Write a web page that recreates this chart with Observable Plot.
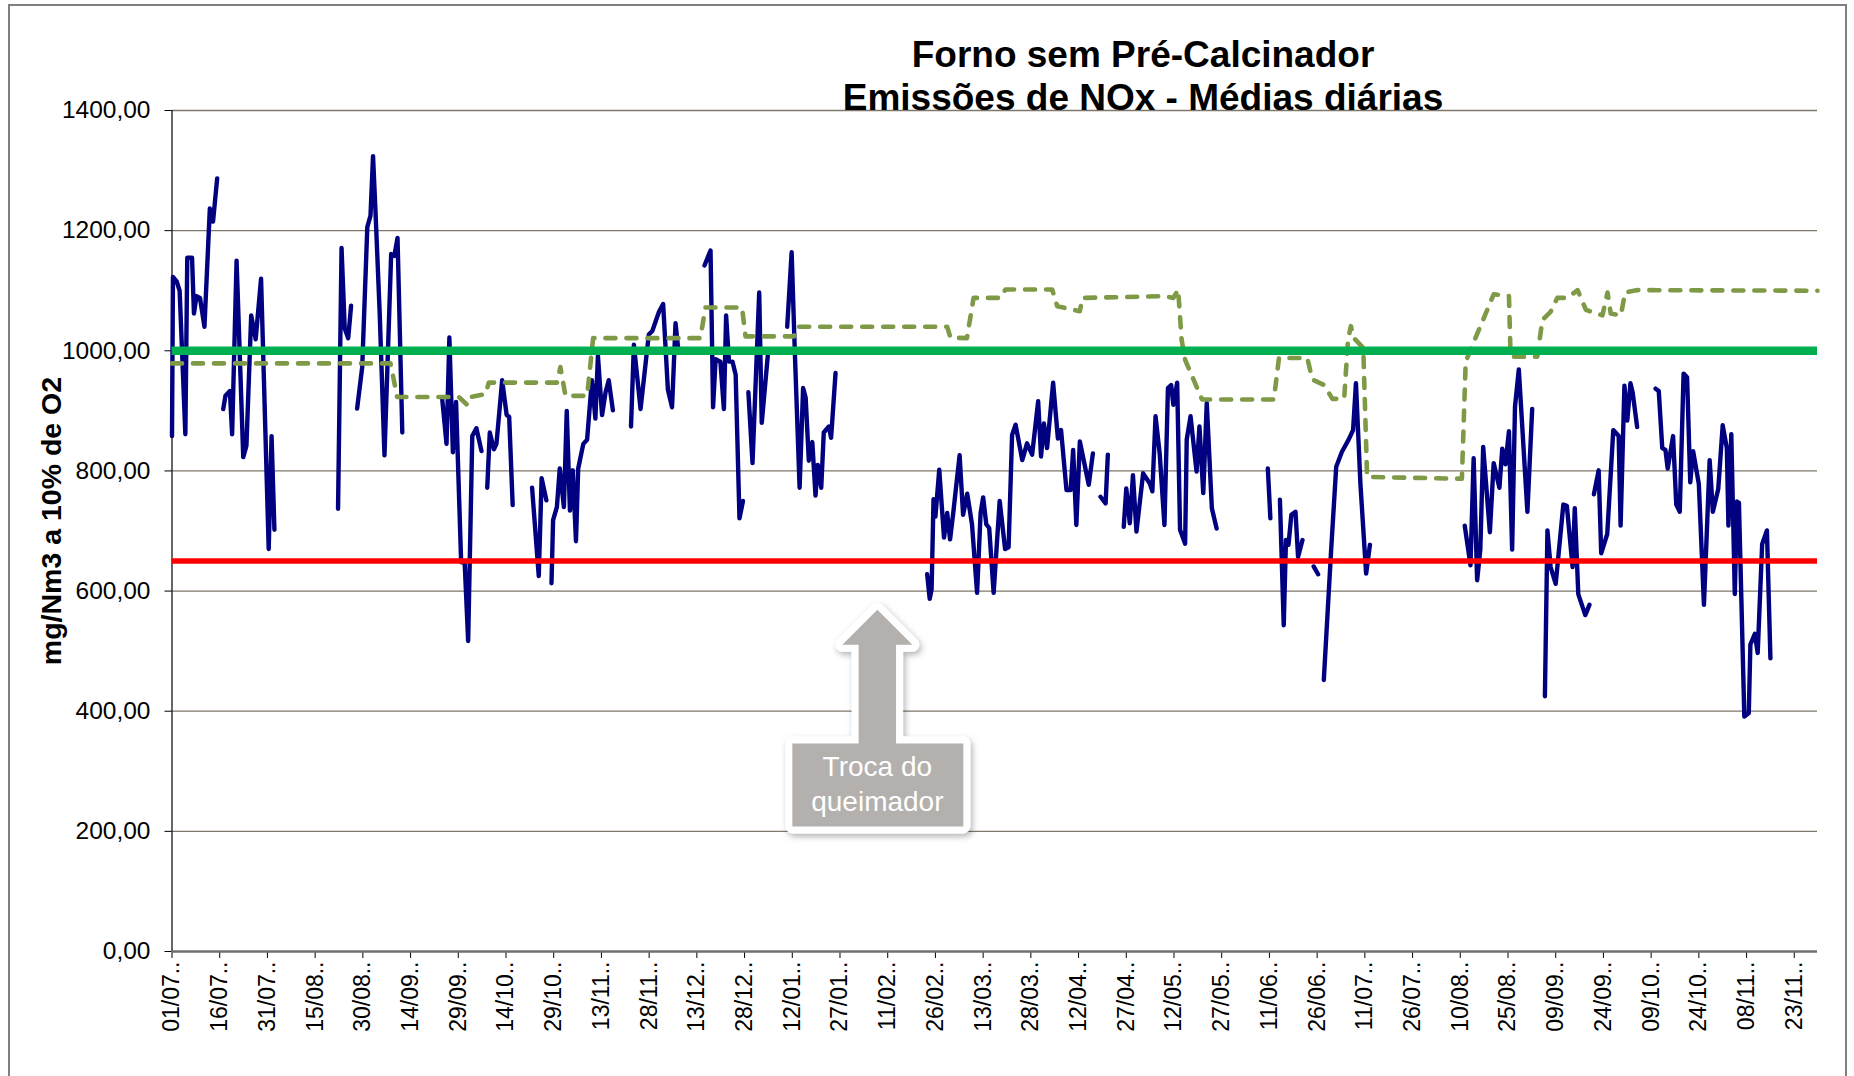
<!DOCTYPE html>
<html><head><meta charset="utf-8">
<script src="https://cdn.jsdelivr.net/npm/d3@7"></script>
<script src="https://cdn.jsdelivr.net/npm/@observablehq/plot@0.6"></script>
<style>
html,body{margin:0;padding:0;background:#fff;}
#chart{width:1854px;height:1076px;overflow:hidden;}
</style>
</head><body><div id="chart"></div>
<script>
const titleLines = ["Forno sem Pré-Calcinador", "Emissões de NOx - Médias diárias"];
const yLabel = "mg/Nm3 a 10% de O2";
const tickLabels = ["01/07..","16/07..","31/07..","15/08..","30/08..","14/09..","29/09..","14/10..","29/10..","13/11..","28/11..","13/12..","28/12..","12/01..","27/01..","11/02..","26/02..","13/03..","28/03..","12/04..","27/04..","12/05..","27/05..","11/06..","26/06..","11/07..","26/07..","10/08..","25/08..","09/09..","24/09..","09/10..","24/10..","08/11..","23/11.."];
const tickStepDays = 15;
const yTicks = [0,200,400,600,800,1000,1200,1400];
const limitGreen = 1000;
const limitRed = 650;
const annotation = {day: 221.9, value: 568, lines: ["Troca do", "queimador"]};

// daily NOx averages [day since 01/07, mg/Nm3]; null = no data
const nox = [
[0,858],[0.3,1123],[1.5,1115],[2.4,1100],[4.2,861],[4.8,1155],[6.3,1155],[6.9,1062],[7.7,1091],[8.8,1088],[10.2,1040],[11.9,1237],[12.9,1215],[14.2,1287],
[15,null],
[16.1,903],[16.8,925],[18.2,933],[18.9,861],[20.3,1150],[22.4,823],[23.4,842],[24.9,1059],[26.3,1019],[28.0,1120],[30.4,670],[31.3,858],[32.2,702],
[40,null],
[52.2,737],[53.3,1171],[54.3,1037],[55.4,1021],[56.3,1075],
[57,null],
[58.2,904],[59.8,973],[61.4,1206],[62.4,1225],[63.2,1324],[63.9,1241],[65.3,1062],[66.8,826],[68.9,1161],[69.9,1158],[70.9,1188],[72.4,864],
[80,null],
[84.9,922],[86.3,845],[87.2,1022],[88.3,831],[89.3,915],[90.9,648],[92.0,648],[93.1,517],[94.4,858],[95.7,871],[97.3,833],
[98,null],
[99.1,772],[99.9,864],[101.2,836],[102.0,845],[103.8,951],[105.2,893],[106.0,890],[107.1,743],
[110,null],
[113.2,772],[115.3,625],[116.2,788],[117.7,751],
[118.5,null],
[119.3,613],[119.8,718],[121.0,740],[121.9,804],[123.2,740],[124.1,900],[125.1,734],[126.0,801],[127.0,683],[127.7,804],[129.3,845],[130.5,852],[132.0,951],[133.1,887],[133.9,992],[135.2,893],[136.3,931],[137.3,951],[138.6,901],
[141,null],
[144.3,874],[145.2,1010],[147.3,903],[149.9,1027],[151.0,1033],[153.1,1065],[154.4,1078],[155.9,935],[157.2,906],[158.3,1046],[159.1,1005],
[163,null],
[167.4,1142],[169.3,1167],[170.1,906],[170.9,986],[172.4,982],[173.5,903],[174.2,1059],[175.1,982],[176.2,982],[177.2,960],[178.4,721],[179.5,750],
[180.3,null],
[181.2,931],[182.5,813],[184.6,1097],[185.4,880],[187.3,992],
[190,null],
[193.4,1040],[194.8,1164],[195.8,998],[197.3,772],[198.4,938],[199.2,922],[200.2,817],[201.3,848],[202.3,759],[203.0,810],[204.1,772],[204.9,864],[206.5,874],[207.2,855],[208.6,963],
[220,null],
[237.4,628],[238.2,587],[238.8,603],[239.4,753],[240.0,724],[241.2,802],[242.7,689],[243.7,730],[244.6,686],[245.6,730],[247.6,826],[248.7,727],[250.0,762],[251.5,711],[253.1,597],[254.2,730],[255.0,756],[256.0,711],[256.9,705],[258.3,597],[260.2,750],[261.9,670],[263.0,673],[264.1,860],[265.2,877],[267.3,818],[268.8,846],[270.4,827],[272.3,916],[273.2,824],[274.1,879],[275.1,838],[277.0,947],[278.5,854],[279.5,868],[281.2,768],[282.5,768],[283.3,835],[284.3,710],[285.4,849],[288.2,777],[289.5,829],
[290.7,null],
[291.9,757],[293.5,746],[294.2,827],
[296,null],
[299.2,707],[300.0,771],[301.1,713],[302.1,793],[303.2,699],[305.3,796],[307.4,779],[308.2,766],[309.2,891],[310.5,829],[312.0,710],[313.1,938],[314.1,943],[314.8,910],[316.0,947],[316.9,702],[318.5,679],[319.0,852],[320.2,891],[322.1,799],[323.0,874],[324.2,763],[325.3,913],[326.9,738],[328.4,704],
[336,null],
[344.5,804],[345.3,721],
[346.8,null],
[348.3,752],[349.5,543],[350.2,685],[351.0,677],[351.9,727],[353.2,732],[354.0,657],[355.4,685],
[357,null],
[358.9,641],[360.3,628],
[361.2,null],
[362.1,452],[364.4,668],[366.0,807],[367.8,832],[369.9,852],[371.3,868],[372.2,946],[373.6,779],[375.4,629],[376.6,677],
[390,null],
[406.4,709],[408.2,643],[409.2,821],[410.3,618],[411.3,669],[412.2,840],[414.3,698],[415.5,813],[417.3,772],[418.2,837],[419.2,811],[420.3,866],[421.3,669],[422.2,907],[423.4,969],[426.1,732],[427.6,903],
[429.5,null],
[431.6,425],[432.4,701],[433.4,640],[435.0,612],[437.4,744],[438.5,742],[440.3,640],[441.0,738],[442.1,595],[444.3,560],[445.6,577],
[446.3,null],
[447.0,761],[448.5,801],[449.3,663],[451.2,695],[453.1,868],[454.8,858],[455.4,709],[456.6,942],[457.5,884],[458.5,946],[459.2,930],[460.6,873],
[463,null],
[466.4,937],[467.4,933],[468.5,838],[469.5,835],[470.2,804],[471.9,858],[472.9,744],[474.0,732],[475.2,962],[476.3,956],[477.3,781],[478.2,833],[480.0,778],[481.6,577],[483.4,818],[484.4,732],[486.1,770],[487.5,876],[488.8,838],[489.3,709],[490.2,861],[491.3,595],[492.0,749],[492.6,747],[494.3,391],[495.7,397],[496.2,511],[497.6,529],[498.5,497],[499.9,678],[501.4,701],[502.5,488]
];

// dashed reference series [day, mg/Nm3]
const reference = [
[0,979],[68.7,979],[70.8,923],[90.2,923],[92.8,910],[93.8,923],[98.6,928],[99.6,947],[121.0,947],[122.1,973],[123.7,925],[130.5,925],[132.4,1021],[166.1,1021],[167.7,1072],[179.2,1072],[180.3,1024],[195.5,1024],[196.6,1040],[243.7,1040],[244.7,1022],[249.9,1021],[252.0,1088],[260.5,1088],[262.0,1102],[276.7,1102],[278.3,1074],[285.4,1066],[286.2,1088],[311.9,1091],[314.8,1088],[316.3,1102],[317.4,1018],[318.5,985],[323.8,919],[346.4,919],[348.0,988],[356.9,988],[358.5,952],[362.2,943],[364.8,920],[368.5,920],[369.7,1018],[370.6,1041],[371.6,1021],[374.5,1005],[375.7,790],[405.5,787],[406.7,982],[415.5,1094],[420.3,1091],[420.8,993],[421.8,990],[429.2,990],[430.8,1051],[433.4,1065],[435.5,1088],[438.7,1088],[441.9,1101],[444.5,1068],[449.7,1059],[451.3,1097],[452.3,1062],[455.5,1059],[456.8,1097],[460.8,1101],[517.3,1100]
];
const xMaxDay = 517.3;

const noxData = nox.map(([d, v]) => ({day: d, value: v}));
const refData = reference.map(([d, v]) => ({day: d, value: v}));
const tickDays = tickLabels.map((_, i) => i * tickStepDays);
const labelByDay = new Map(tickDays.map((d, i) => [d, tickLabels[i]]));
const fmt = v => v.toFixed(2).replace(".", ",");
const FONT = "'Liberation Sans', Arial, sans-serif";

const plot = Plot.plot({
  width: 1854, height: 1076,
  marginLeft: 171.5, marginRight: 37, marginTop: 110, marginBottom: 125,
  x: {domain: [0, xMaxDay]},
  y: {domain: [0, 1400]},
  style: {fontFamily: FONT, background: "#fff", color: "#000"},
  marks: [
    Plot.gridY(yTicks.filter(v => v > 0), {stroke: "#7f776a", strokeOpacity: 1, strokeWidth: 1.3}),
    Plot.axisY(yTicks, {tickFormat: fmt, tickSize: 7, tickPadding: 14.5, fontSize: 24.5, label: null}),
    Plot.axisX(tickDays, {tickFormat: d => labelByDay.get(d), tickRotate: -90, tickSize: 7, tickPadding: 3, fontSize: 23, label: null}),
    Plot.ruleX([0], {stroke: "#000", strokeWidth: 1.2}),
    Plot.ruleY([0], {stroke: "#707070", strokeWidth: 2.5}),
    Plot.line(noxData, {x: "day", y: "value", stroke: "#000080", strokeWidth: 4.4, strokeLinejoin: "round", strokeLinecap: "round"}),
    Plot.line(refData, {x: "day", y: "value", stroke: "#7f9a47", strokeWidth: 4.6, strokeDasharray: "10,11", strokeLinecap: "round", strokeLinejoin: "round"}),
    Plot.ruleY([limitRed], {stroke: "#ff0000", strokeWidth: 5.5}),
    Plot.ruleY([limitGreen], {stroke: "#00b050", strokeWidth: 8.5})
  ]
});
document.getElementById("chart").appendChild(plot);

const svg = d3.select(plot);
const X = plot.scale("x"), Y = plot.scale("y");

// chart frame
svg.append("rect").attr("x", 9).attr("y", 5).attr("width", 1837).attr("height", 1085)
  .attr("fill", "none").attr("stroke", "#808080").attr("stroke-width", 2);

// title
titleLines.forEach((t, i) => {
  svg.append("text").attr("x", 1143).attr("y", 67 + i * 42.5)
    .attr("text-anchor", "middle").attr("font-family", FONT).attr("font-size", 37)
    .attr("font-weight", "bold").attr("fill", "#000").text(t);
});

// y label
svg.append("text").attr("transform", "translate(61,521) rotate(-90)")
  .attr("text-anchor", "middle").attr("font-family", FONT).attr("font-size", 28.5)
  .attr("font-weight", "bold").attr("fill", "#000").text(yLabel);

// annotation callout
const defs = svg.append("defs");
const f = defs.append("filter").attr("id", "shadow").attr("x", "-20%").attr("y", "-20%").attr("width", "140%").attr("height", "140%");
f.append("feDropShadow").attr("dx", 2).attr("dy", 3).attr("stdDeviation", 3).attr("flood-color", "#000").attr("flood-opacity", 0.3);
const tx = X.apply(annotation.day), ty = Y.apply(annotation.value);
const shape = [[0,0],[35,35],[18.7,35],[18.7,133.6],[86,133.6],[86,216.6],[-85,216.6],[-85,133.6],[-18.7,133.6],[-18.7,35],[-35,35]];
const pathD = "M" + shape.map(([a, b]) => `${tx + a},${ty + b}`).join("L") + "Z";
svg.append("path").attr("d", pathD).attr("fill", "#fff").attr("stroke", "#fff")
  .attr("stroke-width", 14).attr("stroke-linejoin", "round").attr("filter", "url(#shadow)");
svg.append("path").attr("d", pathD).attr("fill", "#b3b0ad");
annotation.lines.forEach((t, i) => {
  svg.append("text").attr("x", tx).attr("y", ty + 166 + i * 35)
    .attr("text-anchor", "middle").attr("font-family", FONT).attr("font-size", 28)
    .attr("fill", "#fff").text(t);
});
</script>
</body></html>
